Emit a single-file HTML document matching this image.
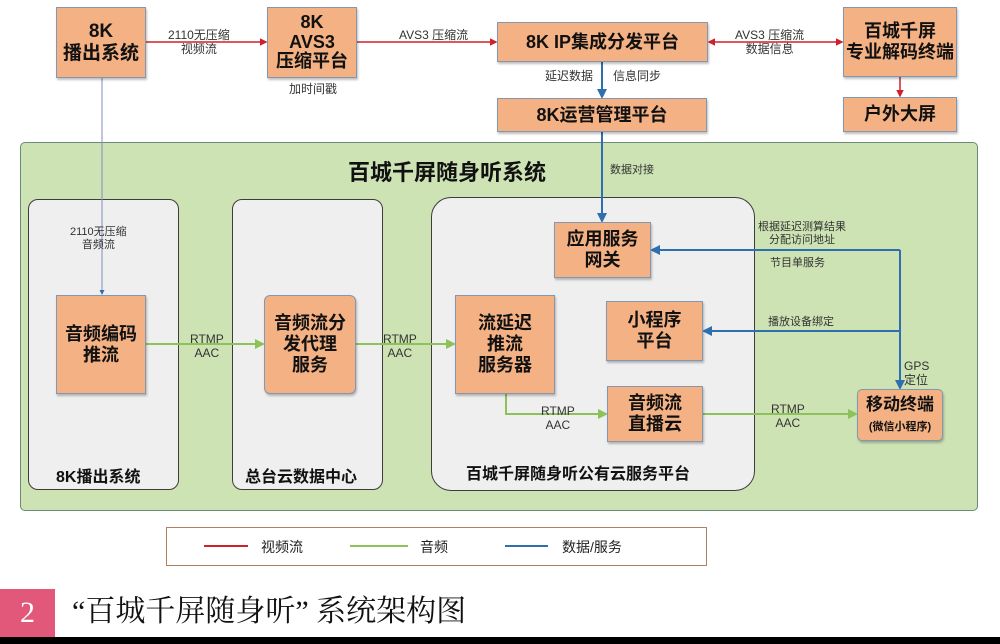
<!DOCTYPE html>
<html><head><meta charset="utf-8"><style>
body{margin:0;width:1000px;height:644px;background:#fff;position:relative;overflow:hidden;font-family:"Liberation Sans","Noto Sans CJK SC",sans-serif;}
.a{position:absolute;}
.b{position:absolute;background:#f4b183;border:1px solid #8497b0;box-shadow:1px 2px 2px rgba(0,0,0,.25);display:flex;align-items:center;justify-content:center;text-align:center;font-weight:bold;color:#111;box-sizing:border-box;line-height:1.15;}
.t{position:absolute;font-size:11px;color:#333;text-align:center;line-height:1.2;white-space:nowrap;}
.g{position:absolute;background:#efefef;border:1.5px solid #3d3d3d;box-sizing:border-box;}
.gl{position:absolute;font-weight:bold;font-size:16px;color:#111;white-space:nowrap;}
</style></head><body>
<div class="a" style="left:20px;top:142px;width:958px;height:369px;background:#cde3b4;border:1px solid #6a8a7a;border-radius:5px;box-sizing:border-box;"></div>
<div class="gl" style="left:348px;top:155px;font-size:22px;">百城千屏随身听系统</div>
<div class="g" style="left:28px;top:199px;width:151px;height:291px;border-radius:10px;"></div>
<div class="g" style="left:232px;top:199px;width:151px;height:291px;border-radius:10px;"></div>
<div class="g" style="left:431px;top:197px;width:324px;height:294px;border-radius:20px;"></div>
<div class="gl" style="left:56px;top:463px;">8K播出系统</div>
<div class="gl" style="left:245px;top:463px;">总台云数据中心</div>
<div class="gl" style="left:466px;top:460px;">百城千屏随身听公有云服务平台</div>

<svg class="a" style="left:0;top:0" width="1000" height="644">
<defs>
<marker id="r" markerWidth="5" markerHeight="5" refX="4" refY="2.5" orient="auto-start-reverse"><path d="M0,0L5,2.5L0,5z" fill="#d0202a"/></marker>
<marker id="gr" markerWidth="5" markerHeight="5" refX="4" refY="2.5" orient="auto"><path d="M0,0L5,2.5L0,5z" fill="#8dc25a"/></marker>
<marker id="bl" markerWidth="5" markerHeight="5" refX="4" refY="2.5" orient="auto"><path d="M0,0L5,2.5L0,5z" fill="#2e6fb0"/></marker>
</defs>
<g stroke="#d0202a" stroke-width="1.5" fill="none">
<line x1="146" y1="42" x2="266" y2="42" marker-end="url(#r)"/>
<line x1="357" y1="42" x2="496" y2="42" marker-end="url(#r)"/>
<line x1="709" y1="42" x2="842" y2="42" marker-end="url(#r)" marker-start="url(#r)"/>
<line x1="900" y1="77" x2="900" y2="96" marker-end="url(#r)"/>
</g>
<line x1="102" y1="78" x2="102" y2="294" stroke="#7f8fc0" stroke-width="1" marker-end="url(#bl)"/>
<g stroke="#8dc25a" stroke-width="2" fill="none">
<line x1="146" y1="344" x2="263" y2="344" marker-end="url(#gr)"/>
<line x1="356" y1="344" x2="454" y2="344" marker-end="url(#gr)"/>
<polyline points="506,394 506,414 606,414" marker-end="url(#gr)"/>
<line x1="703" y1="414" x2="856" y2="414" marker-end="url(#gr)"/>
</g>
<g stroke="#2e6fb0" stroke-width="2" fill="none">
<line x1="602" y1="62" x2="602" y2="97" marker-end="url(#bl)"/>
<line x1="602" y1="132" x2="602" y2="221" marker-end="url(#bl)"/>
<polyline points="900,250 652,250" marker-end="url(#bl)"/>
<polyline points="900,331 704,331" marker-end="url(#bl)"/>
<line x1="900" y1="250" x2="900" y2="388" marker-end="url(#bl)"/>
</g>
<rect x="166.5" y="527.5" width="540" height="38" fill="#fff" stroke="#b08060"/>
<line x1="204" y1="546" x2="248" y2="546" stroke="#d0202a" stroke-width="2"/>
<line x1="350" y1="546" x2="408" y2="546" stroke="#8dc25a" stroke-width="2"/>
<line x1="505" y1="546" x2="548" y2="546" stroke="#2e6fb0" stroke-width="2"/>
</svg>
<div class="t" style="left:261px;top:539px;font-size:14px;color:#222;">视频流</div>
<div class="t" style="left:420px;top:539px;font-size:14px;color:#222;">音频</div>
<div class="t" style="left:562px;top:539px;font-size:14px;color:#222;">数据/服务</div>

<div class="b" style="left:56px;top:7px;width:90px;height:71px;font-size:19px;">8K<br>播出系统</div>
<div class="b" style="left:267px;top:7px;width:90px;height:71px;font-size:18px;line-height:1.1;">8K<br>AVS3<br>压缩平台</div>
<div class="b" style="left:497px;top:22px;width:211px;height:40px;font-size:18px;">8K IP集成分发平台</div>
<div class="b" style="left:843px;top:7px;width:114px;height:70px;font-size:18px;">百城千屏<br>专业解码终端</div>
<div class="b" style="left:843px;top:97px;width:114px;height:35px;font-size:18px;">户外大屏</div>
<div class="b" style="left:497px;top:98px;width:210px;height:34px;font-size:18px;">8K运营管理平台</div>
<div class="b" style="left:56px;top:295px;width:90px;height:99px;font-size:18px;">音频编码<br>推流</div>
<div class="b" style="left:264px;top:295px;width:92px;height:99px;font-size:18px;border-radius:6px;">音频流分<br>发代理<br>服务</div>
<div class="b" style="left:455px;top:295px;width:100px;height:99px;font-size:18px;">流延迟<br>推流<br>服务器</div>
<div class="b" style="left:554px;top:222px;width:97px;height:56px;font-size:18px;">应用服务<br>网关</div>
<div class="b" style="left:606px;top:301px;width:97px;height:60px;font-size:18px;">小程序<br>平台</div>
<div class="b" style="left:607px;top:386px;width:96px;height:56px;font-size:18px;">音频流<br>直播云</div>
<div class="b" style="left:857px;top:389px;width:86px;height:52px;font-size:17px;border-radius:5px;"><div>移动终端<br><span style="font-size:11px">(微信小程序)</span></div></div>

<div class="t" style="left:168px;top:28px;font-size:12px;">2110无压缩<br>视频流</div>
<div class="t" style="left:399px;top:28px;font-size:12px;">AVS3 压缩流</div>
<div class="t" style="left:289px;top:82px;font-size:12px;">加时间戳</div>
<div class="t" style="left:735px;top:28px;font-size:12px;">AVS3 压缩流<br>数据信息</div>
<div class="t" style="left:545px;top:69px;font-size:12px;">延迟数据</div>
<div class="t" style="left:613px;top:69px;font-size:12px;">信息同步</div>
<div class="t" style="left:610px;top:164px;">数据对接</div>
<div class="t" style="left:70px;top:226px;">2110无压缩<br>音频流</div>
<div class="t" style="left:190px;top:332px;font-size:12px;">RTMP<br>AAC</div>
<div class="t" style="left:383px;top:332px;font-size:12px;">RTMP<br>AAC</div>
<div class="t" style="left:541px;top:404px;font-size:12px;">RTMP<br>AAC</div>
<div class="t" style="left:771px;top:402px;font-size:12px;">RTMP<br>AAC</div>
<div class="t" style="left:758px;top:221px;">根据延迟测算结果<br>分配访问地址</div>
<div class="t" style="left:770px;top:257px;">节目单服务</div>
<div class="t" style="left:768px;top:316px;">播放设备绑定</div>
<div class="t" style="left:904px;top:359px;font-size:12px;text-align:left;">GPS<br>定位</div>

<div class="a" style="left:0;top:589px;width:55px;height:48px;background:#e2587a;color:#fff;font-family:'Liberation Serif',serif;font-size:30px;text-align:center;line-height:48px;">2</div>
<div class="a" style="left:72px;top:590px;font-family:'Liberation Serif','Noto Serif CJK SC',serif;font-size:30px;color:#111;white-space:nowrap;line-height:44px;">“百城千屏随身听” 系统架构图</div>
<div class="a" style="left:0;top:637px;width:1000px;height:7px;background:#000;"></div>
</body></html>
